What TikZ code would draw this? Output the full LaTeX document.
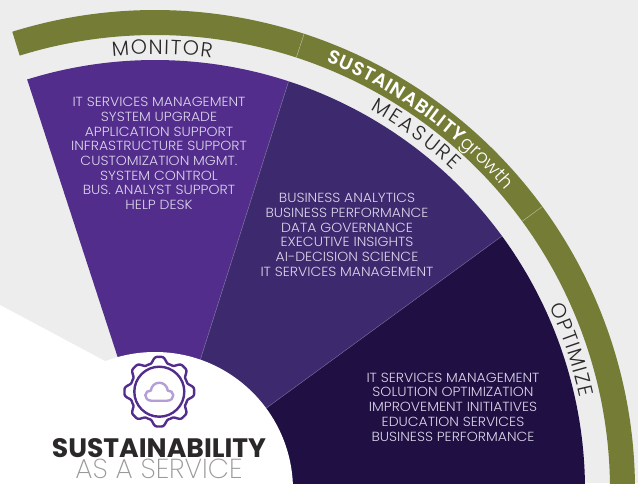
\documentclass[tikz,border=0pt]{standalone}
\usepackage{fontspec}
\usetikzlibrary{decorations.text}
\setmainfont{Poppins}
\newfontfamily\lightf{Poppins Light}
\newfontfamily\listf[FakeStretch=1.06]{Poppins Light}
\newfontfamily\boldf{Poppins SemiBold}
\newfontfamily\heavyf{Poppins Bold}
\newfontfamily\extralightf{Poppins ExtraLight}
\definecolor{bgGray}{HTML}{EDEDED}
\definecolor{ringGreen}{HTML}{747C36}
\definecolor{wedgeA}{HTML}{522D8C}
\definecolor{wedgeB}{HTML}{3D2A6E}
\definecolor{wedgeC}{HTML}{1F0F42}
\definecolor{listText}{HTML}{DCD5EA}
\definecolor{inkDark}{HTML}{2A2829}
\definecolor{titleGray}{HTML}{9A9A9A}
\definecolor{cloudLilac}{HTML}{B39FD6}
\tikzset{
  x=.75pt,y=.75pt,
  listblock/.style={text=listText,align=center,font=\listf\fontsize{9.9pt}{11.05pt}\selectfont,inner sep=0pt},
  titlenode/.style={inner sep=0pt,anchor=base},
  divider/.style={draw=#1,line width=.4pt},
}
\newcommand{\wedgefill}[5]{% colour, a1, a2, inner point 1, inner point 2
  \fill[#1] (#2:430) arc[start angle=#2,end angle=#3,radius=430*.75pt] -- (#5) -- (#4) -- cycle;}
\begin{document}
\begin{tikzpicture}
\useasboundingbox (0,0) rectangle (638,483);
\clip (0,0) rectangle (638,483);
\fill[bgGray] (0,0) rectangle (638,483);
\fill[white] (0,0) -- (0,178) -- (105,122) -- (156,-7) -- (156,0) -- cycle;
\coordinate (c) at (155,-7);
\begin{scope}[shift={(c)}]
  % ring
  \fill[ringGreen] (107.3:480) arc[start angle=107.3,end angle=-2,radius=480*.75pt] -- (-2:455) arc[start angle=-2,end angle=107.3,radius=455*.75pt] -- cycle;
  \draw[divider=white!45!ringGreen] (71.9:455) -- (71.9:480);
  \draw[divider=white!45!ringGreen] (36.2:455) -- (36.2:480);
  % wedges
  \wedgefill{wedgeA}{107.3}{71.9}{6,0}{4,0}
  \wedgefill{wedgeB}{71.9}{36.2}{4,0}{-1,0}
  \wedgefill{wedgeC}{36.2}{-2}{-1,0}{0,-20}
  \draw[divider=white!30!wedgeB] (4,0) -- (71.9:430);
  \draw[divider=white!25!wedgeB] (-1,0) -- (36.2:430);
  \fill[white] (0,0) circle[radius=138*.75pt];
  % curved labels
  \path[decorate,decoration={text along path,text align=fit to path,
     text={|\lightf\fontsize{15.4pt}{15.4pt}\selectfont\color{inkDark}|MONITOR}}]
     (95.6:436) arc[start angle=95.6,end angle=82.5,radius=436*.75pt];
  \path[decorate,decoration={text along path,text align=fit to path,
     text={|\lightf\fontsize{15.4pt}{15.4pt}\selectfont\color{inkDark}|MEASURE}}]
     (60.5:437) arc[start angle=60.5,end angle=47,radius=437*.75pt];
  \path[decorate,decoration={text along path,text align=fit to path,
     text={|\lightf\fontsize{15.4pt}{15.4pt}\selectfont\color{inkDark}|OPTIMIZE}}]
     (25:435) arc[start angle=25,end angle=12.3,radius=435*.75pt];
  \path[decorate,decoration={text along path,text align=fit to path,
     text={|\boldf\fontsize{14.2pt}{14.2pt}\selectfont\color{white}|SUSTAINABILITY}}]
     (68.2:461) arc[start angle=68.2,end angle=48.8,radius=461*.75pt];
  \path[decorate,decoration={text along path,text align=fit to path,
     text={|\lightf\fontsize{14pt}{14pt}\selectfont\color{white}|growth}}]
     (48.6:461) arc[start angle=48.6,end angle=40.6,radius=461*.75pt];
\end{scope}
% lists
\node[listblock] (listA) at (159,329.5) {IT SERVICES MANAGEMENT\\SYSTEM UPGRADE\\APPLICATION SUPPORT\\INFRASTRUCTURE SUPPORT\\CUSTOMIZATION MGMT.\\SYSTEM CONTROL\\BUS. ANALYST SUPPORT\\HELP DESK};
\node[listblock] (listB) at (347,248) {BUSINESS ANALYTICS\\BUSINESS PERFORMANCE\\DATA GOVERNANCE\\EXECUTIVE INSIGHTS\\AI-DECISION SCIENCE\\IT SERVICES MANAGEMENT};
\node[listblock] (listC) at (453,76) {IT SERVICES MANAGEMENT\\SOLUTION OPTIMIZATION\\IMPROVEMENT INITIATIVES\\EDUCATION SERVICES\\BUSINESS PERFORMANCE};
% gear icon
\begin{scope}[shift={(159.3,91.3)}]
  \draw[wedgeA,line width=1.8pt,line join=round] plot[domain=0:360,samples=361,smooth] ({\x}:{32+3.3*(cos(8*\x)-.15*cos(24*\x))}) -- cycle;
  \draw[wedgeA,line width=1.8pt] (0,0) circle[radius=25*.75pt];
  \draw[cloudLilac,line width=1.8pt,line join=round] (-8,-9) -- (8,-9) .. controls (12,-9) and (14,-6) .. (14,-3.5) .. controls (14,-.5) and (11,1.5) .. (8.5,1) .. controls (8,6) and (4,9) .. (0,9) .. controls (-4,9) and (-8,6) .. (-8.5,1) .. controls (-11,1.5) and (-14,-.5) .. (-14,-3.5) .. controls (-14,-6) and (-12,-9) .. (-8,-9) -- cycle;
\end{scope}
% title
\node[titlenode,text=inkDark,font=\heavyf\fontsize{20pt}{20pt}\selectfont] (titleA) at (159,26) {SUSTAINABILITY};
\node[titlenode,text=titleGray,font=\extralightf\fontsize{20.6pt}{20.6pt}\selectfont] (titleB) at (159,5) {AS A SERVICE};
\end{tikzpicture}
\end{document}
